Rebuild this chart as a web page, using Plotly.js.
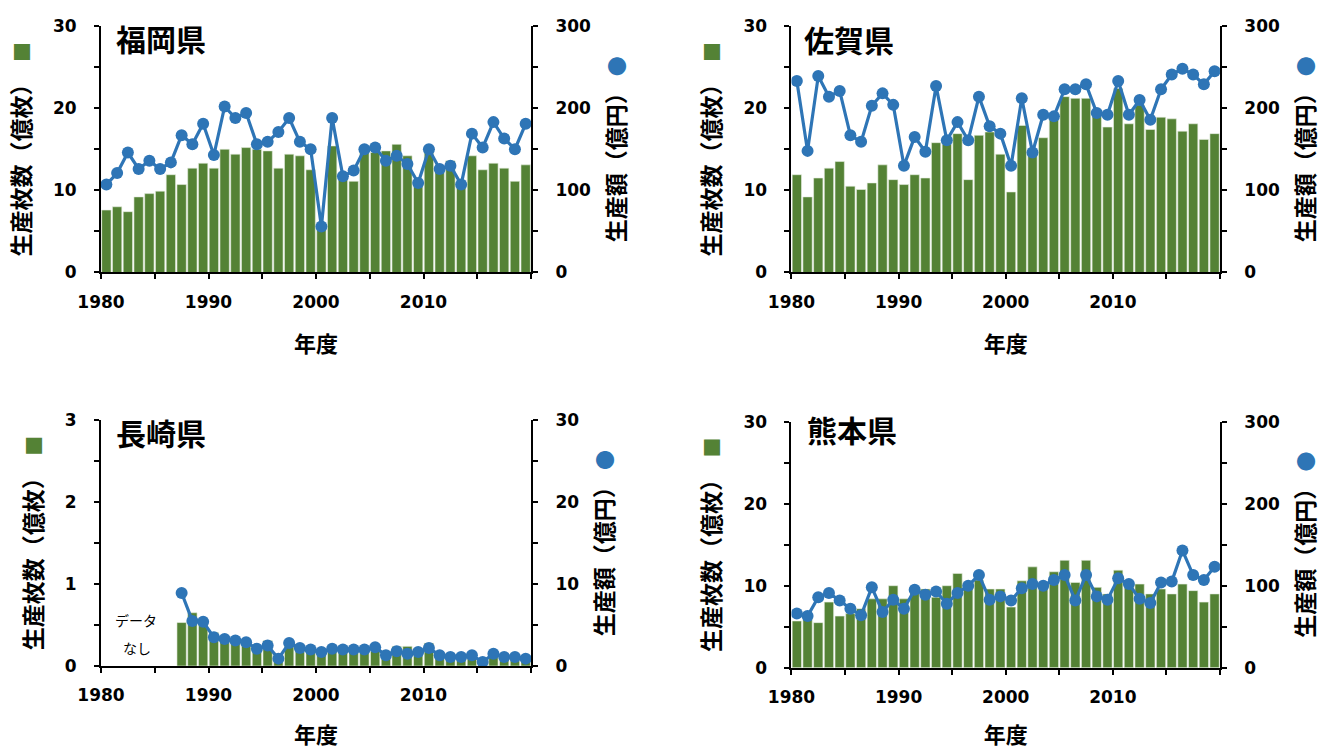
<!DOCTYPE html>
<html>
<head>
<meta charset="utf-8">
<script src="https://cdn.plot.ly/plotly-3.0.1.min.js"></script>
<style>body{margin:0;padding:0;background:#fff;}#chart{width:1322px;height:749px;}</style>
</head>
<body>
<div id="chart"></div>
<script>
// ---- categories ----
const years = [1980,1981,1982,1983,1984,1985,1986,1987,1988,1989,1990,1991,1992,1993,1994,1995,1996,1997,1998,1999,
               2000,2001,2002,2003,2004,2005,2006,2007,2008,2009,2010,2011,2012,2013,2014,2015,2016,2017,2018,2019];
const nagasakiYears = [1987,1988,1989,1990,1991,1992,1993,1994,1995,1996,1997,1998,1999,
                       2000,2001,2002,2003,2004,2005,2006,2007,2008,2009,2010,2011,2012,2013,2014,2015,2016,2017,2018,2019];

// ---- 生産枚数（億枚） ----
const fukuokaSheets = [7.6,8.0,7.4,9.2,9.6,9.9,11.9,10.7,12.7,13.3,12.7,15.0,14.4,15.2,15.0,14.8,12.7,14.4,14.2,12.5,
                       5.6,15.4,11.7,11.1,14.7,14.6,14.8,15.6,14.2,10.9,14.7,12.3,13.6,10.7,14.2,12.5,13.3,12.7,11.1,13.1];
const sagaSheets = [11.9,9.2,11.5,12.7,13.5,10.5,10.1,10.9,13.1,11.3,10.7,11.9,11.5,15.8,15.6,16.9,11.3,16.7,17.1,14.4,
                    9.8,17.9,14.3,16.4,19.0,21.4,21.2,21.2,19.0,17.7,22.4,18.1,20.4,17.4,18.9,18.7,17.2,18.1,16.2,16.9];
const nagasakiSheets = [0.53,0.65,0.57,0.41,0.35,0.33,0.31,0.24,0.31,0.14,0.25,0.21,0.20,
                        0.18,0.24,0.24,0.24,0.18,0.18,0.18,0.24,0.24,0.21,0.28,0.15,0.12,0.12,0.13,0.04,0.17,0.13,0.13,0.10];
const kumamotoSheets = [5.7,6.2,5.5,8.0,6.3,6.6,7.2,8.4,8.4,10.0,8.4,9.3,9.6,8.6,10.0,11.5,10.4,10.7,9.6,9.6,
                        7.4,10.6,12.3,9.9,11.7,13.1,10.4,13.1,9.8,9.0,11.9,10.1,10.2,9.0,9.6,9.0,10.2,9.4,8.0,9.0];

// ---- 生産額（億円） ----
const fukuokaValue = [107,121,146,126,136,126,134,167,156,181,143,202,188,194,156,159,171,188,159,150,
                      56,188,117,124,150,152,136,142,132,109,150,126,130,107,169,152,183,163,150,181];
const sagaValue = [233,148,239,214,221,167,159,203,218,204,130,165,147,227,161,183,161,214,178,169,
                   130,212,146,192,190,223,223,229,194,192,233,192,210,186,223,241,248,241,229,245];
const nagasakiValue = [8.9,5.5,5.4,3.5,3.3,3.1,2.9,2.1,2.5,0.9,2.8,2.2,2.0,
                       1.7,2.1,2.0,2.0,2.0,2.3,1.3,1.8,1.5,1.7,2.2,1.3,1.1,1.1,1.3,0.5,1.5,1.1,1.1,0.9];
const kumamotoValue = [66,63,86,91,82,72,64,98,68,83,72,95,89,93,78,91,100,113,83,87,
                       82,97,102,100,107,113,82,113,87,83,109,102,84,79,104,105,143,113,107,123];

// ---- tick labels ----
const xTickVals = [1979.5,1984.5,1989.5,1994.5,1999.5,2004.5,2009.5,2014.5,2019.5];
const xTickText = ['1980','','1990','','2000','','2010','',''];
const leftTickVals = [0,5,10,15,20,25,30];
const leftTickText = ['0','','10','','20','','30'];
const rightTickVals = [0,50,100,150,200,250,300];
const rightTickText = ['0','','100','','200','','300'];
const nLeftTickVals = [0,0.5,1,1.5,2,2.5,3];
const nLeftTickText = ['0','','1','','2','','3'];
const nRightTickVals = [0,5,10,15,20,25,30];
const nRightTickText = ['0','','10','','20','','30'];

const prefNames = ['福岡県','佐賀県','長崎県','熊本県'];
const noDataText = ['データ','なし'];

const GREEN = '#548235', BLUE = '#2E75B6';
const numFont = {family:'DejaVu Sans, Verdana, sans-serif', size:17, color:'#000', weight:'bold'};
const jpFont = (s) => ({family:'Noto Sans CJK JP, sans-serif', size:s, color:'#000', weight:'bold'});

const leftTitle = '生産枚数（億枚）  <span style="color:' + GREEN + ';font-size:20px">■</span>';
const rightTitle = '生産額（億円） <span style="color:' + BLUE + ';font-size:20px">●</span>';

function barTrace(x, y, xa, ya){
  return {type:'bar', x:x, y:y, xaxis:xa, yaxis:ya, marker:{color:GREEN, line:{color:'#e8efe3', width:0.6}}, showlegend:false, hoverinfo:'x+y'};
}
function lineTrace(x, y, xa, ya){
  return {type:'scatter', mode:'lines+markers', x:x, y:y, xaxis:xa, yaxis:ya,
          line:{color:BLUE, width:3.2}, marker:{color:BLUE, size:12}, showlegend:false, hoverinfo:'x+y'};
}

const data = [
  barTrace(years, fukuokaSheets, 'x', 'y'),
  lineTrace(years, fukuokaValue, 'x', 'y2'),
  barTrace(years, sagaSheets, 'x2', 'y3'),
  lineTrace(years, sagaValue, 'x2', 'y4'),
  barTrace(nagasakiYears, nagasakiSheets, 'x3', 'y5'),
  lineTrace(nagasakiYears, nagasakiValue, 'x3', 'y6'),
  barTrace(years, kumamotoSheets, 'x4', 'y7'),
  lineTrace(years, kumamotoValue, 'x4', 'y8')
];

function xAxis(domain, anchor){
  return {domain:domain, anchor:anchor, range:[1979.5,2019.5], tickmode:'array', tickvals:xTickVals, ticktext:xTickText,
    ticks:'outside', ticklen:5, tickwidth:2, tickcolor:'#000', showline:true, linewidth:2, linecolor:'#000',
    showgrid:false, zeroline:false, tickfont:numFont, ticklabelstandoff:8, automargin:false,
    title:{text:'年度', font:jpFont(22), standoff:26}};
}
function yLeft(domain, anchor, range, tv, tt){
  return {domain:domain, anchor:anchor, range:range, tickmode:'array', tickvals:tv, ticktext:tt,
    ticks:'outside', ticklen:5, tickwidth:2, tickcolor:'#000', showline:true, linewidth:2, linecolor:'#000',
    showgrid:false, zeroline:false, tickfont:numFont, ticklabelstandoff:14, automargin:false,
    title:{text:leftTitle, font:jpFont(23), standoff:16}};
}
function yRight(overlay, anchor, range, tv, tt){
  return {overlaying:overlay, side:'right', anchor:anchor, range:range, tickmode:'array', tickvals:tv, ticktext:tt,
    ticks:'outside', ticklen:5, tickwidth:2, tickcolor:'#000', showline:true, linewidth:2, linecolor:'#000',
    showgrid:false, zeroline:false, tickfont:numFont, ticklabelstandoff:14, automargin:false,
    title:{text:rightTitle, font:jpFont(23), standoff:19}};
}

const xL = [0.0764,0.4017], xR = [0.5987,0.9228];
const yTop = [0.6362,0.9653], yBotL = [0.1108,0.4392], yBotR = [0.1085,0.4370];

const layout = {
  width:1322, height:749, margin:{l:0,r:0,t:0,b:0}, paper_bgcolor:'#fff', plot_bgcolor:'rgba(0,0,0,0)',
  bargap:0.13, showlegend:false,
  xaxis: xAxis(xL,'y'),
  yaxis: yLeft(yTop,'x',[0,30],leftTickVals,leftTickText),
  yaxis2: yRight('y','x',[0,300],rightTickVals,rightTickText),
  xaxis2: xAxis(xR,'y3'),
  yaxis3: yLeft(yTop,'x2',[0,30],leftTickVals,leftTickText),
  yaxis4: yRight('y3','x2',[0,300],rightTickVals,rightTickText),
  xaxis3: xAxis(xL,'y5'),
  yaxis5: yLeft(yBotL,'x3',[0,3],nLeftTickVals,nLeftTickText),
  yaxis6: yRight('y5','x3',[0,30],nRightTickVals,nRightTickText),
  xaxis4: xAxis(xR,'y7'),
  yaxis7: yLeft(yBotR,'x4',[0,30],leftTickVals,leftTickText),
  yaxis8: yRight('y7','x4',[0,300],rightTickVals,rightTickText),
  annotations: [
    {text:prefNames[0], xref:'paper', yref:'paper', x:114/1322, y:1-38/749, xanchor:'left', yanchor:'middle', showarrow:false, font:jpFont(30)},
    {text:prefNames[1], xref:'paper', yref:'paper', x:802/1322, y:1-39/749, xanchor:'left', yanchor:'middle', showarrow:false, font:jpFont(30)},
    {text:prefNames[2], xref:'paper', yref:'paper', x:114/1322, y:1-432/749, xanchor:'left', yanchor:'middle', showarrow:false, font:jpFont(30)},
    {text:prefNames[3], xref:'paper', yref:'paper', x:805/1322, y:1-429/749, xanchor:'left', yanchor:'middle', showarrow:false, font:jpFont(30)},
    {text:noDataText[0], xref:'paper', yref:'paper', x:136/1322, y:1-620/749, xanchor:'center', yanchor:'middle', showarrow:false, font:{family:'Noto Sans CJK JP, sans-serif', size:14, color:'#000'}},
    {text:noDataText[1], xref:'paper', yref:'paper', x:137/1322, y:1-648/749, xanchor:'center', yanchor:'middle', showarrow:false, font:{family:'Noto Sans CJK JP, sans-serif', size:14, color:'#000'}}
  ]
};

Plotly.newPlot('chart', data, layout, {displayModeBar:false, staticPlot:true});
</script>
</body>
</html>
